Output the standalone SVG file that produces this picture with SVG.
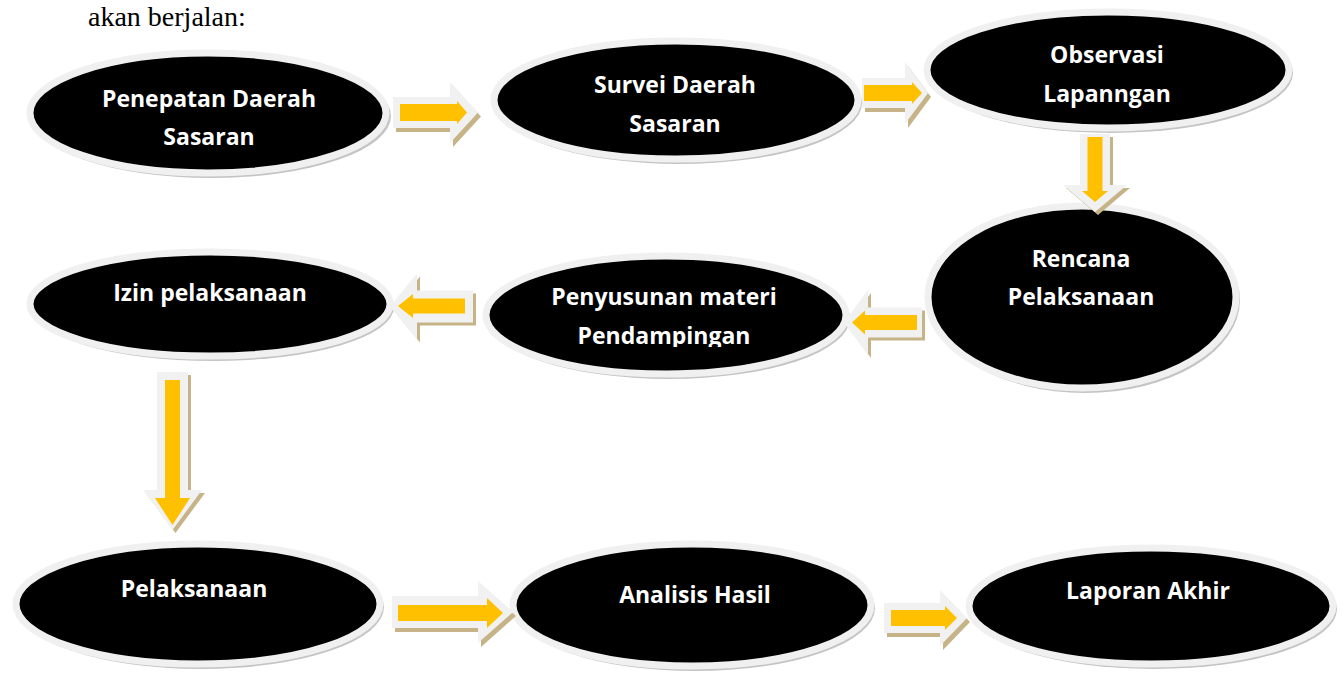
<svg xmlns="http://www.w3.org/2000/svg" width="1343" height="675" viewBox="0 0 1343 675">
<style>
.shadow{fill:#c4c4c4}
.oval{fill:#000;stroke:#f0f0f0;stroke-width:7}
.t{font-family:"Open Sans","Noto Sans",sans-serif;font-weight:bold;font-size:23px;fill:#fff;text-anchor:middle}
.ash{fill:#c6b488}
.aout{fill:#f1f1f1}
.ain{fill:#ffc000}
.cap{font-family:"Liberation Serif","Times New Roman",serif;font-size:28px;fill:#000}
</style>
<defs>
<clipPath id="cut5"><rect x="480" y="250" width="370" height="97"/></clipPath>
</defs>
<rect width="1343" height="675" fill="#fff"/>
<text class="cap" x="88" y="26">akan berjalan:</text>

<g id="node-penepatan">
<ellipse class="shadow" cx="211" cy="116" rx="180" ry="62"/>
<ellipse class="oval" cx="208" cy="113" rx="178" ry="60"/>
<text class="t" x="209" y="107">Penepatan Daerah</text>
<text class="t" x="209" y="145">Sasaran</text>
</g>
<g id="node-survei">
<ellipse class="shadow" cx="679" cy="103" rx="183" ry="61"/>
<ellipse class="oval" cx="676" cy="100" rx="182" ry="59"/>
<text class="t" x="675" y="93">Survei Daerah</text>
<text class="t" x="675" y="132">Sasaran</text>
</g>
<g id="node-observasi">
<ellipse class="shadow" cx="1111" cy="73" rx="182" ry="60"/>
<ellipse class="oval" cx="1108" cy="70" rx="181" ry="58"/>
<text class="t" x="1107" y="63">Observasi</text>
<text class="t" x="1107" y="102">Lapanngan</text>
</g>
<g id="node-rencana">
<ellipse class="shadow" cx="1085" cy="300" rx="155" ry="93"/>
<ellipse class="oval" cx="1082" cy="297" rx="154" ry="91"/>
<text class="t" x="1081" y="267">Rencana</text>
<text class="t" x="1081" y="305">Pelaksanaan</text>
</g>
<g id="node-penyusunan">
<ellipse class="shadow" cx="669" cy="318" rx="181" ry="61"/>
<ellipse class="oval" cx="666" cy="315" rx="180" ry="59"/>
<text class="t" x="664" y="305">Penyusunan materi</text>
<text class="t" x="664" y="344" clip-path="url(#cut5)">Pendampingan</text>
</g>
<g id="node-izin">
<ellipse class="shadow" cx="213" cy="307" rx="181" ry="54"/>
<ellipse class="oval" cx="210" cy="304" rx="180" ry="52"/>
<text class="t" x="210" y="301">Izin pelaksanaan</text>
</g>
<g id="node-pelaksanaan">
<ellipse class="shadow" cx="201" cy="607" rx="183" ry="62"/>
<ellipse class="oval" cx="198" cy="604" rx="182" ry="60"/>
<text class="t" x="194" y="597">Pelaksanaan</text>
</g>
<g id="node-analisis">
<ellipse class="shadow" cx="695" cy="608" rx="180" ry="63"/>
<ellipse class="oval" cx="692" cy="605" rx="179" ry="61"/>
<text class="t" x="695" y="603">Analisis Hasil</text>
</g>
<g id="node-laporan">
<ellipse class="shadow" cx="1154" cy="609" rx="183" ry="60"/>
<ellipse class="oval" cx="1151" cy="606" rx="182" ry="58"/>
<text class="t" x="1148" y="599">Laporan Akhir</text>
</g>

<g id="connectors">
<g transform="translate(3,4)"><path class="ash" d="M393,97 L450,97 L450,82 L478,112.5 L450,143 L450,128 L393,128 Z"/></g>
<path class="aout" d="M393,97 L450,97 L450,82 L478,112.5 L450,143 L450,128 L393,128 Z"/>
<path class="ain" d="M400,104 L457,104 L457,101 L467,112.5 L457,124 L457,121 L400,121 Z"/>
<g transform="translate(3,4)"><path class="ash" d="M862,78 L905,78 L905,62 L928,93 L905,124 L905,108 L862,108 Z"/></g>
<path class="aout" d="M862,78 L905,78 L905,62 L928,93 L905,124 L905,108 L862,108 Z"/>
<path class="ain" d="M864,85 L912,85 L912,82 L922,93 L912,104 L912,101 L864,101 Z"/>
<g transform="translate(3,3)"><path class="ash" d="M1080,134 L1080,185 L1063,185 L1095,212 L1127,185 L1110,185 L1110,134 Z"/></g>
<path class="aout" d="M1080,134 L1080,185 L1063,185 L1095,212 L1127,185 L1110,185 L1110,134 Z"/>
<path class="ain" d="M1087.5,137 L1087.5,191 L1082,191 L1095,202 L1108,191 L1102.5,191 L1102.5,137 Z"/>
<g transform="translate(3,3)"><path class="ash" d="M922,307.5 L868,307.5 L868,290 L844,322.5 L868,355 L868,337.5 L922,337.5 Z"/></g>
<path class="aout" d="M922,307.5 L868,307.5 L868,290 L844,322.5 L868,355 L868,337.5 L922,337.5 Z"/>
<path class="ain" d="M917,315 L865,315 L865,310.5 L852,322.5 L865,334.5 L865,330 L917,330 Z"/>
<g transform="translate(3,3)"><path class="ash" d="M473,290.5 L417,290.5 L417,273.5 L390,306.5 L417,339.5 L417,322.5 L473,322.5 Z"/></g>
<path class="aout" d="M473,290.5 L417,290.5 L417,273.5 L390,306.5 L417,339.5 L417,322.5 L473,322.5 Z"/>
<path class="ain" d="M465,298.5 L413,298.5 L413,294 L398,306 L413,318 L413,313.5 L465,313.5 Z"/>
<g transform="translate(3,3)"><path class="ash" d="M157,372 L157,490 L143,490 L172.5,530 L202,490 L188,490 L188,372 Z"/></g>
<path class="aout" d="M157,372 L157,490 L143,490 L172.5,530 L202,490 L188,490 L188,372 Z"/>
<path class="ain" d="M165,380 L165,498 L155,498 L172.5,525 L190,498 L180,498 L180,380 Z"/>
<g transform="translate(3,4)"><path class="ash" d="M392,596 L478,596 L478,581 L513,612 L478,643 L478,628 L392,628 Z"/></g>
<path class="aout" d="M392,596 L478,596 L478,581 L513,612 L478,643 L478,628 L392,628 Z"/>
<path class="ain" d="M398,605 L487,605 L487,598 L503,613 L487,628 L487,621 L398,621 Z"/>
<g transform="translate(3,4)"><path class="ash" d="M884,603 L940,603 L940,590 L967,618 L940,646 L940,633 L884,633 Z"/></g>
<path class="aout" d="M884,603 L940,603 L940,590 L967,618 L940,646 L940,633 L884,633 Z"/>
<path class="ain" d="M891,610 L945,610 L945,606 L957,618 L945,630 L945,626 L891,626 Z"/>
</g>
</svg>
